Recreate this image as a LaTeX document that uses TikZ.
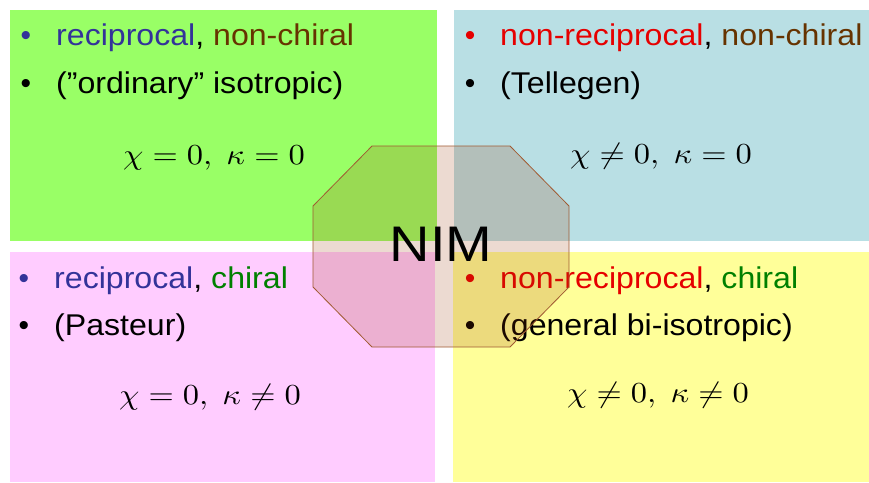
\documentclass[tikz,border=0pt]{standalone}
\usepackage{fontspec}
\setmainfont{Liberation Sans}
\definecolor{qgreen}{RGB}{153,255,102}
\definecolor{qblue}{RGB}{185,223,228}
\definecolor{qpink}{RGB}{255,204,255}
\definecolor{qyellow}{RGB}{255,255,153}
\definecolor{tblue}{RGB}{51,51,153}
\definecolor{tbrown}{RGB}{102,51,0}
\definecolor{tred}{RGB}{230,0,0}
\definecolor{tgreen}{RGB}{0,128,0}
\definecolor{octfill}{RGB}{153,51,0}
\definecolor{octline}{RGB}{160,90,50}
\tikzset{
  txt/.style={anchor=base west, inner sep=0pt, xscale=1.07, font=\fontsize{30}{36}\selectfont},
  bul/.style={anchor=base, inner sep=0pt, font=\fontsize{30}{36}\selectfont},
  eq/.style={anchor=base, inner sep=0pt, scale=2.9, xscale=1.12},
  oct/.style={draw=octline, line width=0.8pt, fill=octfill, fill opacity=0.18},
}
\begin{document}
\begin{tikzpicture}[x=1pt,y=-1pt]
\useasboundingbox (0,0) rectangle (869,482);
\fill[white] (0,0) rectangle (869,482);
% quadrants
\fill[qgreen] (10,10) rectangle (437,241);
\fill[qblue] (454,10) rectangle (869,241);
\fill[qpink] (10,252) rectangle (435,482);
\fill[qyellow] (453,252) rectangle (869,482);
% top-left
\node[bul,text=tblue] (b1) at (26,45) {•};
\node[txt] (l1) at (56,45) {\textcolor{tblue}{reciprocal}, \textcolor{tbrown}{non-chiral}};
\node[bul] (b2) at (26,93) {•};
\node[txt] (l2) at (56,93) {(”ordinary” isotropic)};
\node[eq] (e1) at (214,164) {$\chi=0,\ \kappa=0$};
% top-right
\node[bul,text=tred] (b3) at (470,45) {•};
\node[txt] (l3) at (500,45) {\textcolor{tred}{non-reciprocal}, \textcolor{tbrown}{non-chiral}};
\node[bul] (b4) at (470,93) {•};
\node[txt] (l4) at (500,93) {(Tellegen)};
\node[eq] (e2) at (661,163) {$\chi\neq0,\ \kappa=0$};
% bottom-left
\node[bul,text=tblue] (b5) at (24,288) {•};
\node[txt] (l5) at (54,288) {\textcolor{tblue}{reciprocal}, \textcolor{tgreen}{chiral}};
\node[bul] (b6) at (24,335) {•};
\node[txt] (l6) at (54,335) {(Pasteur)};
\node[eq] (e3) at (210,404) {$\chi=0,\ \kappa\neq0$};
% bottom-right
\node[bul,text=tred] (b7) at (470,288) {•};
\node[txt] (l7) at (500,288) {\textcolor{tred}{non-reciprocal}, \textcolor{tgreen}{chiral}};
\node[bul] (b8) at (470,335) {•};
\node[txt] (l8) at (500,335) {(general bi-isotropic)};
\node[eq] (e4) at (658,402) {$\chi\neq0,\ \kappa\neq0$};
% octagon
\draw[oct] (372,146) -- (510,146) -- (569,206) -- (569,287) -- (510,347) -- (372,347) -- (313,287) -- (313,206) -- cycle;
\node[anchor=base, inner sep=0pt, xscale=1.12, font=\fontsize{50}{60}\selectfont] (nim) at (441,261) {NIM};
\end{tikzpicture}
\end{document}
